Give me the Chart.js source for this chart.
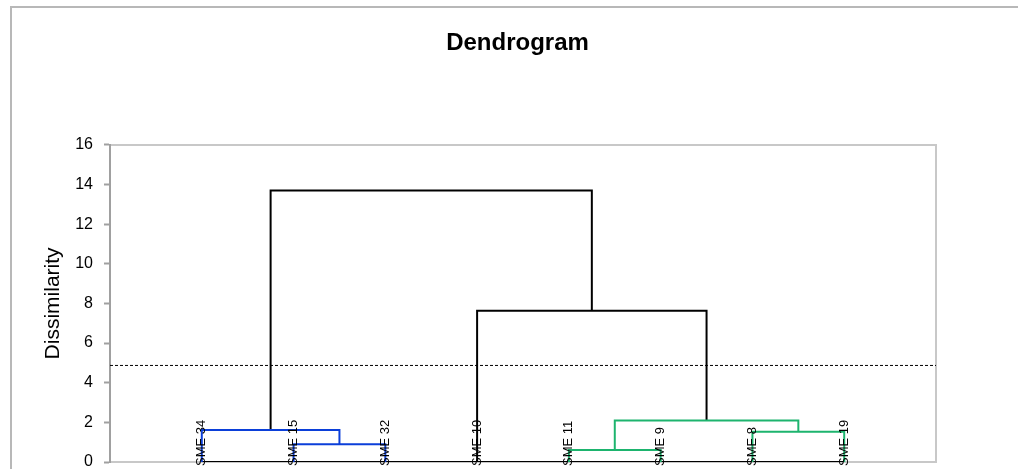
<!DOCTYPE html>
<html>
<head>
<meta charset="utf-8">
<script src="https://cdn.jsdelivr.net/npm/chart.js@4.4.1/dist/chart.umd.min.js"></script>
<style>
  html, body { margin: 0; padding: 0; background: #fff; overflow: hidden; width: 1018px; height: 469px; }
  #frame { position: absolute; left: 10px; top: 6px; width: 1011px; height: 461px;
           border-left: 2px solid #b8b8b8; border-top: 2px solid #b8b8b8; }
  canvas { display: block; }
</style>
</head>
<body>
<div id="frame"><canvas id="dendro" width="1011" height="461"></canvas></div>
<script>
// leaves in dendrogram order
const leaves = ['SME 34', 'SME 15', 'SME 32', 'SME 10', 'SME 11', 'SME 9', 'SME 8', 'SME 19'];

// merges, linkage style: child ids (0-7 leaves, 8+ earlier merges) and height
const mergeA = [1, 4, 6, 0, 9, 3, 11];
const mergeB = [2, 5, 7, 8, 10, 12, 13];
const mergeHeight = [0.89, 0.60, 1.52, 1.62, 2.09, 7.63, 13.69];

// truncation level (dashed line)
const cutHeight = 4.87;

const yTicks = [0, 2, 4, 6, 8, 10, 12, 14, 16];

// colours
const BLUE = '#0b3fd9';
const GREEN = '#1db46e';
const BLACK = '#000000';
const linkColors = [BLUE, GREEN, GREEN, BLUE, GREEN, BLACK, BLACK];

// position / height of every node
const nodeX = leaves.map((_, i) => i + 1);
const nodeY = leaves.map(() => 0);
mergeHeight.forEach((h, k) => {
  nodeX.push((nodeX[mergeA[k]] + nodeX[mergeB[k]]) / 2);
  nodeY.push(h);
});

const datasets = mergeHeight.map((h, k) => {
  const a = mergeA[k], b = mergeB[k];
  return {
    data: [
      { x: nodeX[a], y: nodeY[a] },
      { x: nodeX[a], y: h },
      { x: nodeX[b], y: h },
      { x: nodeX[b], y: nodeY[b] }
    ],
    borderColor: linkColors[k],
    borderWidth: 2
  };
});

// base line under the leaves
datasets.push({
  data: [{ x: nodeX[0], y: 0 }, { x: nodeX[leaves.length - 1], y: 0 }],
  borderColor: BLACK,
  borderWidth: 2
});

// cut line
datasets.push({
  data: [{ x: 0, y: cutHeight }, { x: leaves.length + 1, y: cutHeight }],
  borderColor: BLACK,
  borderWidth: 1,
  borderDash: [3, 2]
});

datasets.forEach(d => {
  d.showLine = true;
  d.pointRadius = 0;
  d.tension = 0;
  d.fill = false;
});

// leaf names written vertically inside the plot
const leafLabels = {
  id: 'leafLabels',
  afterDatasetsDraw(chart) {
    const { ctx, chartArea, scales: { x } } = chart;
    ctx.save();
    ctx.font = '13px "Liberation Sans", Arial, sans-serif';
    ctx.fillStyle = '#000';
    ctx.textAlign = 'left';
    ctx.textBaseline = 'middle';
    leaves.forEach((name, i) => {
      ctx.save();
      ctx.translate(x.getPixelForValue(nodeX[i]), chartArea.bottom + 4);
      ctx.rotate(-Math.PI / 2);
      ctx.fillText(name, 0, 0);
      ctx.restore();
    });
    ctx.restore();
  }
};

const frameGray = '#c8c8c8';
const axisGray = '#a0a0a0';

new Chart(document.getElementById('dendro'), {
  type: 'scatter',
  data: { datasets },
  plugins: [leafLabels],
  options: {
    responsive: false,
    animation: false,
    layout: { padding: { left: 0, right: 0, top: 0, bottom: 7 } },
    plugins: {
      legend: { display: false },
      tooltip: { enabled: false },
      title: {
        display: true,
        text: 'Dendrogram',
        color: '#000',
        font: { family: '"Liberation Sans", Arial, sans-serif', size: 24, weight: 'bold' },
        padding: { top: 21, bottom: 87 }
      }
    },
    scales: {
      x: {
        type: 'linear',
        min: 0,
        max: leaves.length + 1,
        ticks: { display: false },
        grid: { display: false },
        border: { color: frameGray, width: 2 },
        afterFit: s => { s.height = 0; }
      },
      x2: {
        type: 'linear',
        axis: 'x',
        position: 'top',
        min: 0,
        max: leaves.length + 1,
        ticks: { display: false },
        grid: { display: false },
        border: { color: frameGray, width: 2 },
        afterFit: s => { s.height = 0; }
      },
      y: {
        min: 0,
        max: 16,
        afterBuildTicks: s => { s.ticks = yTicks.map(v => ({ value: v })); },
        ticks: {
          color: '#000',
          padding: 11,
          font: { family: '"Liberation Sans", Arial, sans-serif', size: 16 }
        },
        grid: { display: true, drawOnChartArea: false, tickLength: 6, tickWidth: 2, color: axisGray },
        border: { color: axisGray, width: 2 },
        title: {
          display: true,
          text: 'Dissimilarity',
          color: '#000',
          font: { family: '"Liberation Sans", Arial, sans-serif', size: 21 },
          padding: { top: 29, bottom: 0 }
        },
        afterFit: s => {
          s.width = 98;
          s.paddingTop = 0;
          s.paddingBottom = 0;
        }
      },
      y2: {
        type: 'linear',
        axis: 'y',
        position: 'right',
        min: 0,
        max: 16,
        ticks: { display: false },
        grid: { display: false },
        border: { color: frameGray, width: 2 },
        afterFit: s => { s.width = 87; }
      }
    }
  }
});
</script>
</body>
</html>
